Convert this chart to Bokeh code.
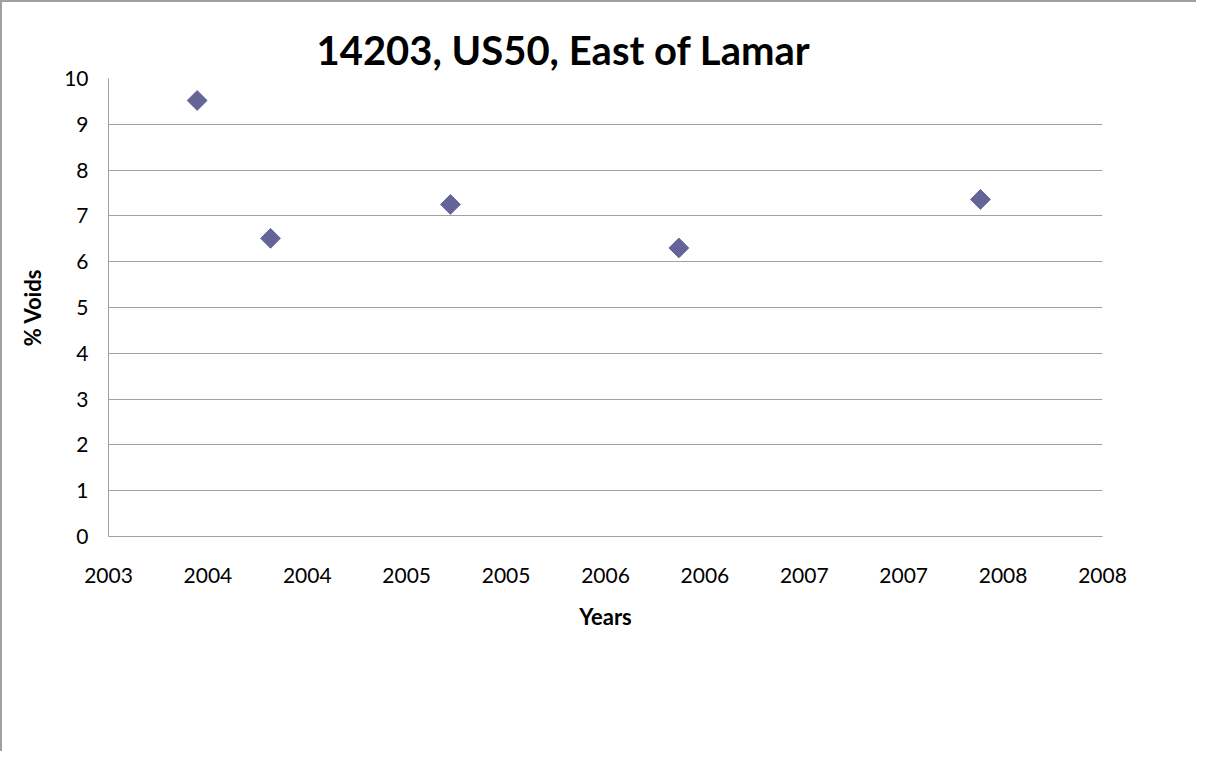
import math
from bokeh.plotting import figure
from bokeh.models import FixedTicker
from bokeh.embed import file_html
from bokeh.resources import INLINE

# data
years = [2003.446, 2003.815, 2004.72, 2005.869, 2007.386]
voids = [9.52, 6.51, 7.25, 6.30, 7.36]

x_tick_values = [2003, 2003.5, 2004, 2004.5, 2005, 2005.5, 2006, 2006.5, 2007, 2007.5, 2008]
x_tick_labels = ["2003", "2004", "2004", "2005", "2005", "2006", "2006", "2007", "2007", "2008", "2008"]
y_tick_values = [0, 1, 2, 3, 4, 5, 6, 7, 8, 9, 10]

title = "14203, US50, East of Lamar"
x_label = "Years"
y_label = "% Voids"

FONT = "Lato"
GRID = "#a0a0a0"

p = figure(width=1196, height=751, output_backend="svg", toolbar_location=None,
           x_range=(2003, 2008), y_range=(0, 10),
           min_border_left=106, min_border_right=96, min_border_top=76, min_border_bottom=217)
p.styles = {"border-left": "2px solid #a0a0a0", "border-top": "2px solid #a0a0a0"}
p.background_fill_color = "white"
p.border_fill_color = "white"
p.outline_line_color = None

p.title.text = title
p.title.align = "left"
p.title.text_font = FONT
p.title.text_font_size = "40px"
p.title.text_font_style = "bold"
p.title.text_color = "black"
p.title.offset = 208
p.title.standoff = 9

p.xaxis.ticker = FixedTicker(ticks=x_tick_values)
p.xaxis.major_label_overrides = {v: l for v, l in zip(x_tick_values, x_tick_labels)}
p.yaxis.ticker = FixedTicker(ticks=y_tick_values)

for ax in (p.xaxis, p.yaxis):
    ax.axis_line_color = GRID
    ax.axis_line_width = 1
    ax.major_tick_line_color = None
    ax.minor_tick_line_color = None
    ax.major_label_text_font = FONT
    ax.major_label_text_font_size = "21px"
    ax.major_label_text_color = "black"
    ax.axis_label_text_font = FONT
    ax.axis_label_text_font_size = "22px"
    ax.axis_label_text_font_style = "bold"
    ax.axis_label_text_color = "black"

p.xaxis.axis_label = x_label
p.yaxis.axis_label = y_label
p.xaxis.major_label_standoff = 25
p.yaxis.major_label_standoff = 14
p.xaxis.axis_label_standoff = 17
p.yaxis.axis_label_standoff = 15

p.xgrid.grid_line_color = None
p.ygrid.grid_line_color = GRID
p.ygrid.grid_line_width = 1

p.scatter(years, voids, marker="square", size=14, angle=math.pi / 4,
          fill_color="#646499", line_color="#646499")

open("out.html", "w").write(file_html(p, INLINE))
